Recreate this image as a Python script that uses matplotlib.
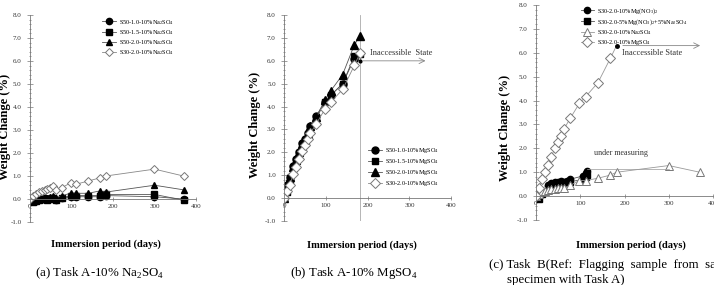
import matplotlib
matplotlib.use("Agg")
import matplotlib.pyplot as plt
from matplotlib.ticker import MultipleLocator, FormatStrFormatter

plt.rcParams['font.family'] = ['Liberation Serif', 'DejaVu Serif']
plt.rcParams['mathtext.fontset'] = 'custom'
plt.rcParams['mathtext.rm'] = 'Liberation Serif'

# (a) Task A - 10% Na2SO4
days_a = [0, 7, 14, 21, 28, 35, 42, 49, 56, 63, 77, 98, 112, 140, 168, 182, 300, 370]
a_s50_10 = [0, -0.1, -0.1, 0.0, 0.0, 0.05, 0.0, 0.05, 0.05, -0.05, 0.05, 0.1, 0.1, 0.1, 0.1, 0.15, 0.1, 0.0]
a_s50_15 = [0, -0.15, -0.1, -0.05, 0.0, 0.0, -0.05, 0.0, 0.05, -0.05, 0.05, 0.15, 0.15, 0.15, 0.15, 0.2, 0.2, -0.05]
a_s50_20 = [0, -0.1, -0.05, 0.0, 0.05, 0.1, 0.05, 0.1, 0.15, 0.05, 0.15, 0.25, 0.25, 0.25, 0.35, 0.3, 0.6, 0.4]
a_s30_20 = [0, 0.15, 0.2, 0.3, 0.35, 0.4, 0.45, 0.5, 0.55, 0.4, 0.5, 0.7, 0.65, 0.78, 0.92, 1.0, 1.3, 1.0]

# (b) Task A - 10% MgSO4
days_b = [0, 7, 14, 21, 28, 35, 42, 49, 56, 63, 77, 98, 112, 140, 168, 182]
b_s50_10 = [0, 0.55, 0.9, 1.4, 1.7, 2.0, 2.4, 2.6, 2.85, 3.15, 3.6, 4.2, 4.5, 5.0, 6.1, 6.0]
b_s50_15 = [0, 0.25, 0.8, 1.3, 1.6, 1.95, 2.3, 2.5, 2.8, 3.1, 3.5, 4.2, 4.5, 5.0, 6.2, 6.3]
b_s50_20 = [0, 0.6, 0.9, 1.35, 1.65, 2.0, 2.35, 2.55, 2.8, 3.15, 3.55, 4.3, 4.7, 5.4, 6.7, 7.1]
b_s30_20 = [0, 0.3, 0.55, 1.05, 1.35, 1.7, 2.05, 2.3, 2.6, 2.85, 3.25, 3.9, 4.2, 4.75, 5.8, 6.35]
b_limit = 182

# (c) Task B
days_c = [0, 7, 14, 28, 35, 42, 49, 56, 63, 70, 76, 107, 112, 116]
c_mgno3 = [0.1, -0.05, 0.15, 0.45, 0.55, 0.6, 0.6, 0.65, 0.6, 0.65, 0.7, 0.85, 0.95, 1.05]
c_mix = [0.0, -0.1, 0.1, 0.35, 0.45, 0.5, 0.55, 0.55, 0.55, 0.6, 0.6, 0.7, 0.8, 0.9]
c_na2so4 = [0, 0.1, 0.2, 0.2, 0.25, 0.3, 0.3, 0.35, 0.35, 0.35, 0.45, 0.65, 0.65, 0.75, 0.88, 1.0, 1.28, 1.0]
c_mgso4 = [0, 0.35, 0.7, 1.0, 1.3, 1.65, 2.0, 2.25, 2.5, 2.8, 3.25, 3.88, 4.16, 4.75, 5.77, 6.3]

fig = plt.figure(figsize=(7.14, 2.85), dpi=100)
ax_a = fig.add_axes([0.042, 0.221, 0.2325, 0.726])
ax_b = fig.add_axes([0.398, 0.225, 0.234, 0.722])
ax_c = fig.add_axes([0.7507, 0.228, 0.248, 0.7545])


def style(ax, ylab_xy, xlab_xy):
    ax.set_xlim(0, 400)
    ax.set_ylim(-1, 8)
    for s in ['top', 'right']:
        ax.spines[s].set_visible(False)
    ax.spines['bottom'].set_position(('data', 0))
    ax.spines['left'].set_color('#777777')
    ax.spines['bottom'].set_color('#777777')
    ax.spines['left'].set_linewidth(0.6)
    ax.spines['bottom'].set_linewidth(0.6)
    ax.xaxis.set_major_locator(MultipleLocator(100))
    ax.yaxis.set_major_locator(MultipleLocator(1))
    ax.yaxis.set_minor_locator(MultipleLocator(0.2))
    ax.yaxis.set_major_formatter(FormatStrFormatter('%.1f'))
    ax.tick_params(which='both', direction='inout', colors='#777777', labelcolor='#333333',
                   labelsize=5, width=0.5)
    ax.tick_params(axis='y', which='major', length=4, pad=4)
    ax.tick_params(axis='y', which='minor', length=2)
    ax.tick_params(axis='x', length=3, pad=2)
    ax.set_ylabel('Weight Change (%)', fontsize=9, fontweight='bold', va='center')
    ax.yaxis.set_label_coords(*ylab_xy)
    ax.set_xlabel('Immersion period (days)', fontsize=7.5, fontweight='bold', va='center')
    ax.xaxis.set_label_coords(*xlab_xy)


line_kw = dict(lw=0.6, color='#555555')
open_kw = dict(mfc='white', mec='#777777', mew=0.7)
leg_kw = dict(loc='upper left', frameon=False, fontsize=4.5, handlelength=2.2, handletextpad=0.5)

# panel a
ax_a.plot(days_a, a_s50_10, marker='o', ms=4.5, mfc='black', mec='black', label='S50-1.0-10%Na$_2$SO$_4$', **line_kw)
ax_a.plot(days_a, a_s50_15, marker='s', ms=4.5, mfc='black', mec='black', label='S50-1.5-10%Na$_2$SO$_4$', **line_kw)
ax_a.plot(days_a, a_s50_20, marker='^', ms=5, mfc='black', mec='black', label='S50-2.0-10%Na$_2$SO$_4$', **line_kw)
ax_a.plot(days_a, a_s30_20, marker='D', ms=4.2, label='S30-2.0-10%Na$_2$SO$_4$', lw=0.6, color='#888888', **open_kw)
style(ax_a, (-0.15, 0.46), (0.458, -0.106))
ax_a.legend(bbox_to_anchor=(0.4, 1.015), labelspacing=0.22, **leg_kw)

# panel b
ax_b.axvline(b_limit, color='#aaaaaa', lw=0.6)
ax_b.plot(days_b, b_s50_10, marker='o', ms=5, mfc='black', mec='black', markevery=list(range(len(days_b) - 1)),
          label='S50-1.0-10%MgSO$_4$', **line_kw)
ax_b.plot(days_b[-1:], b_s50_10[-1:], marker='o', ms=2, color='black', ls='none')
ax_b.plot(days_b, b_s50_15, marker='s', ms=5, mfc='black', mec='black', label='S50-1.5-10%MgSO$_4$', **line_kw)
ax_b.plot(days_b, b_s50_20, marker='^', ms=5.5, mfc='black', mec='black', label='S50-2.0-10%MgSO$_4$', **line_kw)
ax_b.plot(days_b, b_s30_20, marker='D', ms=4.8, label='S30-2.0-10%MgSO$_4$', lw=0.6, color='#888888', **open_kw)
style(ax_b, (-0.174, 0.466), (0.467, -0.117))
ax_b.annotate('', xy=(345, 6.0), xytext=(b_limit, 6.0),
              arrowprops=dict(arrowstyle='->', color='#888888', lw=0.6))
ax_b.text(205, 6.35, 'Inaccessible  State', fontsize=6, color='#333333', va='center')
ax_b.legend(bbox_to_anchor=(0.47, 0.39), labelspacing=0.3, **leg_kw)

# panel c
ax_c.plot(days_c, c_mgno3, marker='o', ms=4.5, mfc='black', mec='black', label='S30-2.0-10%Mg(NO$_3$)$_2$', **line_kw)
ax_c.plot(days_c, c_mix, marker='s', ms=4.5, mfc='black', mec='black',
          label='S30-2.0-5%Mg(NO$_3$)$_2$+5%Na$_2$SO$_4$', **line_kw)
ax_c.plot(days_a, c_na2so4, marker='^', ms=5.5, label='S30-2.0-10%Na$_2$SO$_4$', lw=0.6, color='#999999', **open_kw)
ax_c.plot(days_b, c_mgso4, marker='D', ms=4.8, markevery=list(range(len(days_b) - 1)),
          label='S30-2.0-10%MgSO$_4$', lw=0.6, color='#999999', **open_kw)
ax_c.plot(days_b[-1:], c_mgso4[-1:], marker='o', ms=2.5, color='black', ls='none')
style(ax_c, (-0.175, 0.43), (0.537, -0.116))
ax_c.annotate('', xy=(377, 6.3), xytext=(190, 6.3),
              arrowprops=dict(arrowstyle='->', color='#888888', lw=0.6))
ax_c.text(195, 6.0, 'Inaccessible State', fontsize=6, color='#333333', va='center')
ax_c.plot([115, 300], [1.12, 1.12], color='#999999', lw=0.5)
ax_c.text(130, 1.8, 'under measuring', fontsize=5.8, color='#333333', va='center')
ax_c.legend(bbox_to_anchor=(0.22, 1.02), labelspacing=0.18, **leg_kw)

# captions
fig.text(100 / 714, 1 - 273 / 285, '(a) Task A-10% Na$_2$SO$_4$', fontsize=9.3, ha='center', va='center')
fig.text(354 / 714, 1 - 273 / 285, '(b) Task A-10% MgSO$_4$', fontsize=9.3, ha='center', va='center')
fig.text(489 / 714, 1 - 265 / 285, '(c) Task  B(Ref:  Flagging  sample  from  same', fontsize=9.3,
         ha='left', va='center')
fig.text(507 / 714, 1 - 280 / 285, 'specimen with Task A)', fontsize=9.3, ha='left', va='center')

fig.savefig('out.png', dpi=100)
